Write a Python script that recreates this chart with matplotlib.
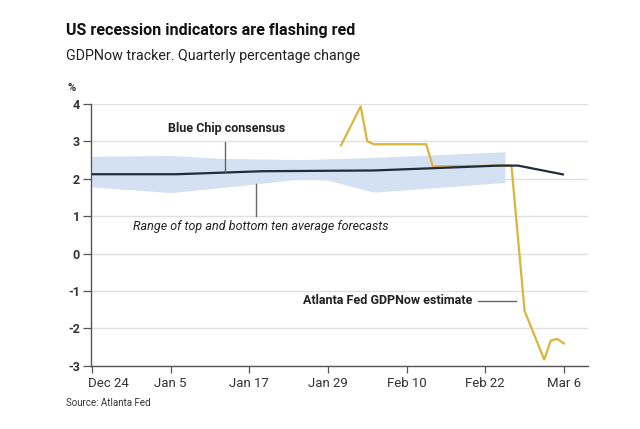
import matplotlib
matplotlib.use("Agg")
import matplotlib.pyplot as plt
import matplotlib.dates as mdates
import matplotlib.transforms as mtransforms
import pandas as pd

plt.rcParams['font.family'] = ['Roboto', 'DejaVu Sans']

# ---- data ----
gdpnow_dates = ["2025-01-31", "2025-02-03", "2025-02-04", "2025-02-05", "2025-02-13",
                "2025-02-14", "2025-02-26", "2025-02-28", "2025-03-03", "2025-03-04",
                "2025-03-05", "2025-03-06"]
gdpnow_vals = [2.89, 3.93, 3.0, 2.92, 2.92, 2.33, 2.35, -1.53, -2.83, -2.32, -2.28, -2.4]

bluechip_dates = ["2024-12-24", "2025-01-06", "2025-01-19", "2025-02-05", "2025-02-14",
                  "2025-02-24", "2025-02-27", "2025-03-06"]
bluechip_vals = [2.12, 2.12, 2.2, 2.22, 2.28, 2.35, 2.35, 2.11]

band_dates = ["2024-12-24", "2025-01-05", "2025-01-13", "2025-01-18", "2025-01-25",
              "2025-01-29", "2025-02-05", "2025-02-25"]
band_upper = [2.6, 2.62, 2.54, 2.53, 2.51, 2.53, 2.57, 2.72]
band_lower = [1.78, 1.63, 1.77, 1.86, 2.0, 1.96, 1.64, 1.9]

xtick_dates = ["2024-12-24", "2025-01-05", "2025-01-17", "2025-01-29", "2025-02-10",
               "2025-02-22", "2025-03-06"]
xtick_labels = ["Dec 24", "Jan 5", "Jan 17", "Jan 29", "Feb 10", "Feb 22", "Mar 6"]
yticks = [-3, -2, -1, 0, 1, 2, 3, 4]

title = "US recession indicators are flashing red"
subtitle = "GDPNow tracker. Quarterly percentage change"
source = "Source: Atlanta Fed"

# ---- figure ----
fig = plt.figure(figsize=(6.4, 4.29), dpi=100)
ax = fig.add_axes([0.142, 0.147, 0.777, 0.611])

gd = pd.to_datetime(gdpnow_dates)
bd = pd.to_datetime(bluechip_dates)
rd = pd.to_datetime(band_dates)

ax.fill_between(rd, band_lower, band_upper, color="#d3e1f3", lw=0, zorder=1)
ax.plot(bd, bluechip_vals, color="#1e2d3b", lw=1.6, zorder=3, solid_capstyle="butt")
ax.plot(gd, gdpnow_vals, color="#dbb43c", lw=1.6, zorder=2)

x0 = mdates.date2num(pd.Timestamp("2024-12-24"))
ax.set_xlim(x0 - 0.15, x0 + 75.7)
ax.set_ylim(-3, 4)

ax.set_yticks(yticks)
ax.set_yticklabels([str(v) for v in yticks], fontsize=9, fontweight="bold", color="#333333")
ax.set_xticks(pd.to_datetime(xtick_dates))
ax.set_xticklabels(xtick_labels, fontsize=9.5, color="#333333")
ax.tick_params(axis="y", length=6, width=0.9, color="#555555", pad=2)
ax.tick_params(axis="x", length=5, width=0.9, color="#555555", pad=3)

# first x label sits to the right of its tick
first = ax.get_xticklabels()[0]
first.set_horizontalalignment("left")
first.set_transform(first.get_transform() +
                    mtransforms.ScaledTranslation(-4 / 100, 0, fig.dpi_scale_trans))

ax.grid(axis="y", color="#e0e0e0", lw=1.0, zorder=0)
ax.set_axisbelow(True)
for s in ["top", "right"]:
    ax.spines[s].set_visible(False)
for s in ["left", "bottom"]:
    ax.spines[s].set_color("#555555")
    ax.spines[s].set_linewidth(1.0)

# annotations
xa = x0 + (225 - 92) / 6.556
ax.plot([xa, xa], [2.97, 2.2], color="#666666", lw=1.0, zorder=4)
ax.text(x0 + (227 - 92) / 6.556, 3.34, "Blue Chip consensus", fontsize=9, fontweight="bold",
        ha="center", va="center", color="#222222")

xb = x0 + (256 - 92) / 6.556
ax.plot([xb, xb], [1.87, 1.0], color="#666666", lw=1.0, zorder=4)
ax.text(x0 + (133 - 92) / 6.556, 0.73, "Range of top and bottom ten average forecasts",
        fontsize=9, style="italic", ha="left", va="center", color="#222222")

ax.text(x0 + (473 - 92) / 6.556, -1.25, "Atlanta Fed GDPNow estimate", fontsize=9,
        fontweight="bold", ha="right", va="center", color="#222222")
ax.plot([x0 + (478 - 92) / 6.556, x0 + (516 - 92) / 6.556], [-1.27, -1.27],
        color="#666666", lw=1.0, zorder=4)

ax.text(-0.03, 1.06, "%", transform=ax.transAxes, fontsize=8, fontweight="bold",
        ha="right", va="center", color="#333333")

fig.text(66 / 640, 1 - 31 / 429, title, fontsize=11.6, fontweight="bold", ha="left",
         va="center", color="#111111")
fig.text(66 / 640, 1 - 56 / 429, subtitle, fontsize=10.3, ha="left", va="center",
         color="#222222")
fig.text(66 / 640, 1 - 403 / 429, source, fontsize=7, ha="left", va="center",
         color="#333333")

fig.savefig("out.png", dpi=100, facecolor="white")
